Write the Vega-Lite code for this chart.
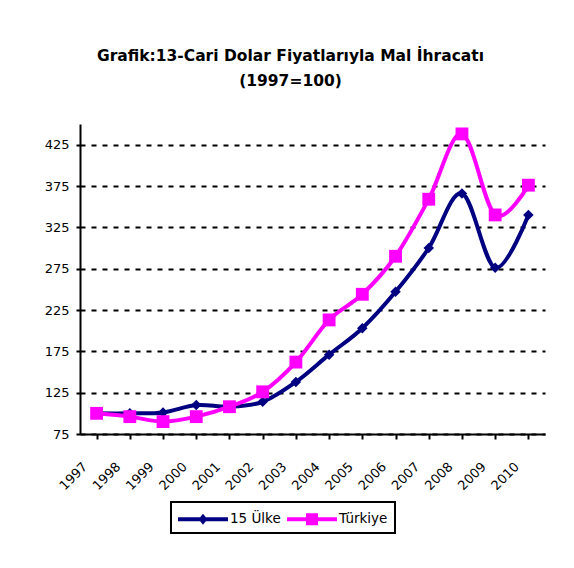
{
  "$schema": "https://vega.github.io/schema/vega-lite/v6.json",
  "autosize": {"type": "none"},
  "width": 465,
  "height": 310,
  "padding": {"left": 80, "top": 124, "right": 29, "bottom": 134},
  "background": "white",
  "config": {
    "view": {"stroke": null},
    "font": "DejaVu Sans"
  },
  "title": {
    "text": ["Grafik:13-Cari Dolar Fiyatlarıyla Mal İhracatı", "(1997=100)"],
    "font": "DejaVu Sans",
    "fontSize": 15.5,
    "fontWeight": "bold",
    "color": "black",
    "lineHeight": 25,
    "offset": 35,
    "dx": -22,
    "anchor": "middle"
  },
  "data": {
    "values": [
      {"year": "1997", "series": "15 Ülke", "value": 100},
      {"year": "1998", "series": "15 Ülke", "value": 100},
      {"year": "1999", "series": "15 Ülke", "value": 101},
      {"year": "2000", "series": "15 Ülke", "value": 110},
      {"year": "2001", "series": "15 Ülke", "value": 108},
      {"year": "2002", "series": "15 Ülke", "value": 114},
      {"year": "2003", "series": "15 Ülke", "value": 138},
      {"year": "2004", "series": "15 Ülke", "value": 171},
      {"year": "2005", "series": "15 Ülke", "value": 203},
      {"year": "2006", "series": "15 Ülke", "value": 247},
      {"year": "2007", "series": "15 Ülke", "value": 300},
      {"year": "2008", "series": "15 Ülke", "value": 366},
      {"year": "2009", "series": "15 Ülke", "value": 276},
      {"year": "2010", "series": "15 Ülke", "value": 340},
      {"year": "1997", "series": "Türkiye", "value": 100},
      {"year": "1998", "series": "Türkiye", "value": 96},
      {"year": "1999", "series": "Türkiye", "value": 90},
      {"year": "2000", "series": "Türkiye", "value": 96},
      {"year": "2001", "series": "Türkiye", "value": 108},
      {"year": "2002", "series": "Türkiye", "value": 126},
      {"year": "2003", "series": "Türkiye", "value": 162},
      {"year": "2004", "series": "Türkiye", "value": 213},
      {"year": "2005", "series": "Türkiye", "value": 244},
      {"year": "2006", "series": "Türkiye", "value": 290},
      {"year": "2007", "series": "Türkiye", "value": 359},
      {"year": "2008", "series": "Türkiye", "value": 438},
      {"year": "2009", "series": "Türkiye", "value": 340},
      {"year": "2010", "series": "Türkiye", "value": 376}
    ]
  },
  "layer": [
    {
      "mark": {"type": "line", "strokeWidth": 4, "interpolate": "cardinal"},
      "encoding": {
        "x": {
          "field": "year", "type": "ordinal",
          "scale": {"paddingInner": 0, "paddingOuter": 0},
          "axis": {
            "title": null, "labelAngle": -45, "labelFontSize": 13, "labelColor": "black",
            "labelFont": "DejaVu Sans", "ticks": false, "labelPadding": 26, "labelOffset": -16,
            "domainColor": "black", "domainWidth": 2, "grid": false
          }
        },
        "y": {
          "field": "value", "type": "quantitative",
          "scale": {"domain": [75, 450], "nice": false, "zero": false},
          "axis": {
            "title": null, "values": [75, 125, 175, 225, 275, 325, 375, 425],
            "labelFontSize": 13, "labelColor": "black", "labelFont": "DejaVu Sans",
            "tickSize": 4, "tickColor": "black", "tickWidth": 2, "labelPadding": 7,
            "domainColor": "black", "domainWidth": 2,
            "grid": true, "gridColor": "black", "gridWidth": 2, "gridDash": [5, 6]
          }
        },
        "color": {
          "field": "series", "type": "nominal",
          "scale": {"domain": ["15 Ülke", "Türkiye"], "range": ["#000080", "#FF00FF"]},
          "legend": {
            "title": null, "orient": "none", "legendX": 91, "legendY": 378,
            "direction": "horizontal", "strokeColor": "black", "padding": 7,
            "symbolSize": 400, "labelFontSize": 13.5, "labelColor": "black",
            "labelFont": "DejaVu Sans", "labelOffset": 32, "columnPadding": 6,
            "encode": {
              "legend": {"update": {"strokeWidth": {"value": 2}}},
              "symbols": {
                "update": {
                  "shape": [
                    {"test": "datum.value === '15 Ülke'", "value": "M-1,-0.2H4V0.2H-1Z M1.5,-0.55L1.95,0L1.5,0.55L1.05,0Z"},
                    {"value": "M-1,-0.2H4V0.2H-1Z M0.9,-0.6H2.1V0.6H0.9Z"}
                  ],
                  "fill": {"scale": "color", "field": "value"},
                  "fillOpacity": {"value": 1},
                  "strokeWidth": {"value": 0}
                }
              }
            }
          }
        }
      }
    },
    {
      "mark": {"type": "point", "filled": true, "opacity": 1},
      "encoding": {
        "x": {
          "field": "year", "type": "ordinal",
          "axis": {
            "title": null, "labels": false, "domain": false, "grid": false,
            "ticks": true, "tickSize": 5, "tickWidth": 2, "tickColor": "black",
            "bandPosition": 0, "orient": "bottom"
          }
        },
        "y": {"field": "value", "type": "quantitative"},
        "color": {
          "field": "series", "type": "nominal",
          "scale": {"domain": ["15 Ülke", "Türkiye"], "range": ["#000080", "#FF00FF"]},
          "legend": {
            "title": null, "orient": "none", "legendX": 91, "legendY": 378,
            "direction": "horizontal", "strokeColor": "black", "padding": 7,
            "symbolSize": 400, "labelFontSize": 13.5, "labelColor": "black",
            "labelFont": "DejaVu Sans", "labelOffset": 32, "columnPadding": 6,
            "encode": {
              "legend": {"update": {"strokeWidth": {"value": 2}}},
              "symbols": {
                "update": {
                  "shape": [
                    {"test": "datum.value === '15 Ülke'", "value": "M-1,-0.2H4V0.2H-1Z M1.5,-0.55L1.95,0L1.5,0.55L1.05,0Z"},
                    {"value": "M-1,-0.2H4V0.2H-1Z M0.9,-0.6H2.1V0.6H0.9Z"}
                  ],
                  "fill": {"scale": "color", "field": "value"},
                  "fillOpacity": {"value": 1},
                  "strokeWidth": {"value": 0}
                }
              }
            }
          }
        },
        "shape": {
          "condition": {"test": "datum['series'] === 'Türkiye'", "value": "square"},
          "value": "diamond"
        },
        "size": {
          "condition": {"test": "datum['series'] === 'Türkiye'", "value": 165},
          "value": 110
        }
      }
    }
  ],
  "resolve": {"axis": {"x": "independent"}}
}
